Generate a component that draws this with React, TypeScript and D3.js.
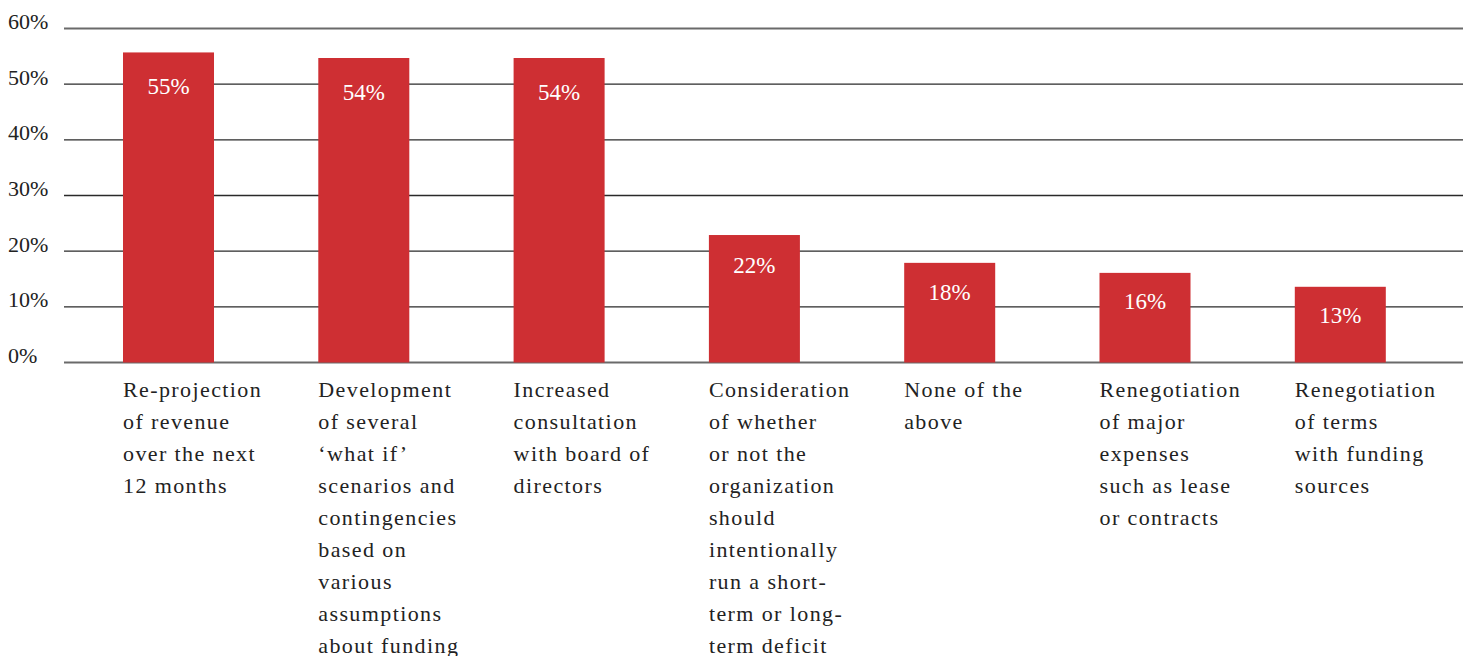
import React from "react";
import * as d3 from "d3";

const categories: string[][] = [
  ["Re-projection", "of revenue", "over the next", "12 months"],
  ["Development", "of several", "\u2018what if\u2019", "scenarios and", "contingencies", "based on", "various", "assumptions", "about funding"],
  ["Increased", "consultation", "with board of", "directors"],
  ["Consideration", "of whether", "or not the", "organization", "should", "intentionally", "run a short-", "term or long-", "term deficit"],
  ["None of the", "above"],
  ["Renegotiation", "of major", "expenses", "such as lease", "or contracts"],
  ["Renegotiation", "of terms", "with funding", "sources"],
];
const values: number[] = [55.7, 54.7, 54.7, 22.9, 17.9, 16.1, 13.6];
const valueLabels: string[] = ["55%", "54%", "54%", "22%", "18%", "16%", "13%"];
const yTicks: number[] = [0, 10, 20, 30, 40, 50, 60];

const W = 1473;
const H = 656;
const FONT = '"Liberation Serif", "DejaVu Serif", serif';

export default function App() {
  const gridX0 = 64;
  const gridX1 = 1463;
  const y = d3.scaleLinear().domain([0, 60]).range([362.5, 28.5]);
  const x = d3
    .scaleBand<number>()
    .domain(values.map((_, i) => i))
    .range([70.85, 70.85 + 7 * 195.3])
    .paddingInner(0.534)
    .paddingOuter(0.267);

  return (
    <svg
      width={W}
      height={H}
      style={{ position: "absolute", left: 0, top: 0, background: "#fff", fontFamily: FONT }}
    >
      {yTicks.map((t) => {
        const edge = t === 0 || t === 60;
        return (
          <g key={t}>
            <line
              x1={gridX0}
              x2={gridX1}
              y1={y(t)}
              y2={y(t)}
              stroke={edge ? "#6a6a6a" : "#2a2a2a"}
              strokeWidth={edge ? 2 : 1.3}
            />
            <text x={8} y={y(t) + 0.5} style={{ fontFamily: FONT, fontSize: 22 }} fill="#222">
              {t}%
            </text>
          </g>
        );
      })}
      {values.map((v, i) => {
        const bx = x(i) as number;
        const bw = x.bandwidth();
        const top = y(v);
        return (
          <g key={i}>
            <rect x={bx} y={top} width={bw} height={y(0) - top} fill="#ce2f33" />
            <text
              x={bx + bw / 2}
              y={top + 34.5 + 0.13 * v}
              textAnchor="middle"
              style={{ fontFamily: FONT, fontSize: 23 }}
              fill="#fff"
            >
              {valueLabels[i]}
            </text>
            <text style={{ fontFamily: FONT, fontSize: 22, letterSpacing: 1.4 }} fill="#222">
              {categories[i].map((line, j) => (
                <tspan key={j} x={bx} y={397 + j * 32}>
                  {line}
                </tspan>
              ))}
            </text>
          </g>
        );
      })}
    </svg>
  );
}
